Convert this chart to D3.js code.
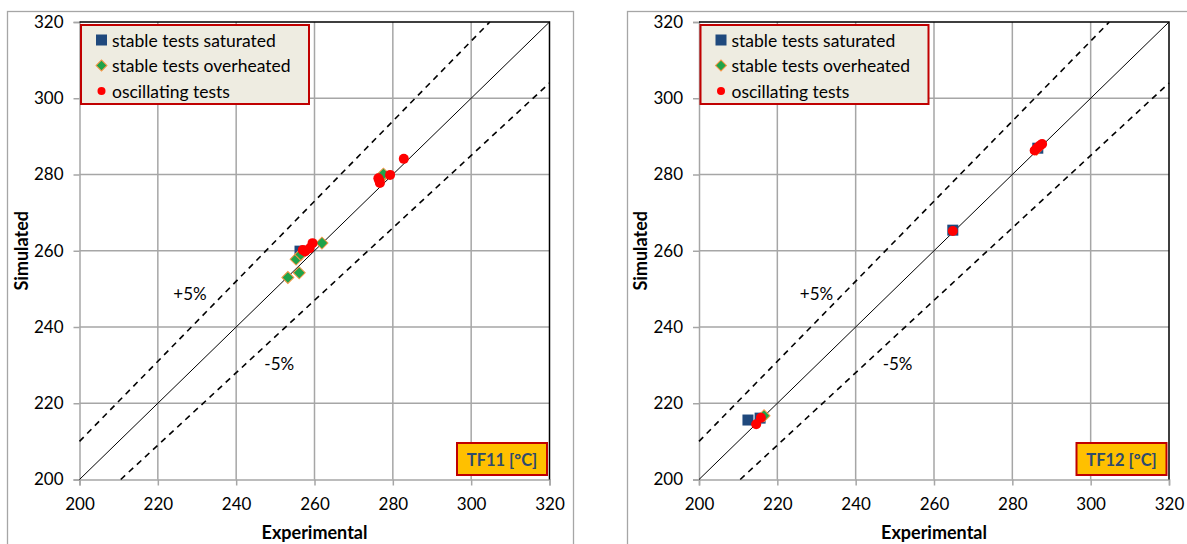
<!DOCTYPE html>
<html>
<head>
<meta charset="utf-8">
<script src="https://cdn.jsdelivr.net/npm/d3@7"></script>
<style>
  html, body { margin: 0; padding: 0; background: #fff; }
  svg { display: block; font-family: Lato, "Liberation Sans", sans-serif; }
</style>
</head>
<body>
<svg id="chart" width="1187" height="544"></svg>
<script>
// Axis ticks shared by both panels
const ticks = [200, 220, 240, 260, 280, 300, 320];

// TF11 panel: [experimental, simulated]
const tf11Saturated = [[256.3, 259.9]];
const tf11Overheated = [[253.2, 253.0], [256.1, 254.2], [255.3, 257.8], [256.5, 259.0], [261.9, 262.0], [277.0, 279.1], [277.6, 280.1]];
const tf11Oscillating = [[257.0, 260.2], [257.6, 259.8], [258.7, 260.6], [259.5, 262.0], [276.3, 279.0], [276.7, 277.8], [276.5, 278.5], [279.3, 279.9], [282.8, 284.1]];

// TF12 panel: [experimental, simulated]
const tf12Saturated = [[212.5, 215.6], [215.6, 216.1], [264.8, 265.4], [286.5, 286.9]];
const tf12Overheated = [[216.6, 216.7], [286.2, 286.6]];
const tf12Oscillating = [[215.8, 216.2], [214.6, 214.5], [264.8, 265.2], [285.7, 286.3], [286.2, 286.8], [286.6, 287.2], [287.2, 287.7], [287.6, 288.0]];

const legendLabels = ["stable tests saturated", "stable tests overheated", "oscillating tests"];
const bandLabels = ["+5%", "-5%"];
const bandFactors = [1.05, 0.95];

const panels = [
  { title: "TF11 [°C]", left: 79.5, sat: tf11Saturated, ovh: tf11Overheated, osc: tf11Oscillating,
    frame: [7, 11, 566, 560], bandPos: [[228.2, 248.7], [251.0, 230.3]] },
  { title: "TF12 [°C]", left: 699, sat: tf12Saturated, ovh: tf12Overheated, osc: tf12Oscillating,
    frame: [627, 11, 566, 560], bandPos: [[230.0, 248.7], [250.7, 230.3]] }
];

const colors = { sat: "#1F497D", ovh: "#1EA34A", ovhStroke: "#F79646", osc: "#FF0000",
  grid: "#A6A6A6", legendFill: "#EEECE1", legendStroke: "#C00000", tag: "#FFC000", tagText: "#2E4A6E" };

const svg = d3.select("#chart");
const plotW = 470, plotTop = 22, plotBottom = 479.5;

panels.forEach(p => {
  const g = svg.append("g");

  // chart frame
  g.append("rect").attr("x", p.frame[0] + 0.5).attr("y", p.frame[1] + 0.5)
    .attr("width", p.frame[2]).attr("height", p.frame[3])
    .attr("fill", "#fff").attr("stroke", "#A6A6A6").attr("stroke-width", 1.3);

  const x = d3.scaleLinear().domain([200, 320]).range([p.left, p.left + plotW]);
  const y = d3.scaleLinear().domain([200, 320]).range([plotBottom, plotTop]);

  // gridlines
  g.append("g").selectAll("line.v").data(ticks.slice(1, -1)).join("line")
    .attr("x1", d => x(d)).attr("x2", d => x(d)).attr("y1", plotTop).attr("y2", plotBottom)
    .attr("stroke", colors.grid).attr("stroke-width", 1.5);
  g.append("g").selectAll("line.h").data(ticks.slice(1, -1)).join("line")
    .attr("y1", d => y(d)).attr("y2", d => y(d)).attr("x1", p.left).attr("x2", p.left + plotW)
    .attr("stroke", colors.grid).attr("stroke-width", 1.5);

  // axes
  const xAxis = g.append("g").attr("transform", `translate(0,${plotBottom})`)
    .call(d3.axisBottom(x).tickValues(ticks).tickSize(6).tickPadding(12).tickFormat(d3.format("d")));
  const yAxis = g.append("g").attr("transform", `translate(${p.left},0)`)
    .call(d3.axisLeft(y).tickValues(ticks).tickSize(6).tickPadding(10).tickFormat(d3.format("d")));
  [xAxis, yAxis].forEach(a => {
    a.select(".domain").attr("stroke", colors.grid).attr("stroke-width", 1.5);
    a.selectAll(".tick line").attr("stroke", colors.grid).attr("stroke-width", 1.5);
    a.selectAll(".tick text").attr("fill", "#000").style("font-size", "17px")
      .style("font-family", "Lato, 'Liberation Sans', sans-serif");
  });

  // top/right border
  g.append("path")
    .attr("d", `M${p.left},${plotTop}H${p.left + plotW}V${plotBottom}`)
    .attr("fill", "none").attr("stroke", "#000").attr("stroke-width", 1.5);

  // 1:1 line and ±5% bands
  const lineGen = d3.line().x(d => x(d[0])).y(d => y(d[1]));
  g.append("path").datum([[200, 200], [320, 320]]).attr("d", lineGen)
    .attr("stroke", "#000").attr("stroke-width", 1).attr("fill", "none");
  bandFactors.forEach(f => {
    const x0 = Math.max(200, 200 / f), x1 = Math.min(320, 320 / f);
    g.append("path").datum([[x0, x0 * f], [x1, x1 * f]]).attr("d", lineGen)
      .attr("stroke", "#000").attr("stroke-width", 1.6).attr("stroke-dasharray", "6,5").attr("fill", "none");
  });
  bandLabels.forEach((t, i) => {
    g.append("text").attr("x", x(p.bandPos[i][0])).attr("y", y(p.bandPos[i][1]))
      .attr("text-anchor", "middle").attr("dominant-baseline", "central")
      .style("font-size", "17px").text(t);
  });

  // markers
  g.append("g").selectAll("rect").data(p.sat).join("rect")
    .attr("x", d => x(d[0]) - 5.5).attr("y", d => y(d[1]) - 5.5)
    .attr("width", 11).attr("height", 11).attr("fill", colors.sat);
  g.append("g").selectAll("path").data(p.ovh).join("path")
    .attr("d", d3.symbol(d3.symbolSquare, 72))
    .attr("transform", d => `translate(${x(d[0])},${y(d[1])}) rotate(45)`)
    .attr("fill", colors.ovh).attr("stroke", colors.ovhStroke).attr("stroke-width", 1);
  g.append("g").selectAll("circle").data(p.osc).join("circle")
    .attr("cx", d => x(d[0])).attr("cy", d => y(d[1])).attr("r", 5).attr("fill", colors.osc);

  // legend
  const lg = g.append("g").attr("transform", `translate(${p.left + 1.5},25)`);
  lg.append("rect").attr("width", 228).attr("height", 79)
    .attr("fill", colors.legendFill).attr("stroke", colors.legendStroke).attr("stroke-width", 2);
  legendLabels.forEach((t, i) => {
    const cy = 15 + i * 25.5;
    if (i === 0) lg.append("rect").attr("x", 15).attr("y", cy - 5.5).attr("width", 11).attr("height", 11).attr("fill", colors.sat);
    if (i === 1) lg.append("path").attr("d", d3.symbol(d3.symbolSquare, 60))
      .attr("transform", `translate(20.5,${cy}) rotate(45)`).attr("fill", colors.ovh).attr("stroke", colors.ovhStroke);
    if (i === 2) lg.append("circle").attr("cx", 20.5).attr("cy", cy).attr("r", 4).attr("fill", colors.osc);
    lg.append("text").attr("x", 31).attr("y", cy).attr("dominant-baseline", "central")
      .style("font-size", "17.5px").text(t);
  });

  // panel tag
  const tg = g.append("g").attr("transform", `translate(${p.left + plotW - 92.5},443)`);
  tg.append("rect").attr("width", 90).attr("height", 32)
    .attr("fill", colors.tag).attr("stroke", colors.legendStroke).attr("stroke-width", 2);
  tg.append("text").attr("x", 45).attr("y", 16.5).attr("text-anchor", "middle").attr("dominant-baseline", "central")
    .style("font-size", "16.5px").style("font-weight", "bold").attr("fill", colors.tagText).text(p.title);

  // axis titles
  g.append("text").attr("x", p.left + plotW / 2).attr("y", 532).attr("text-anchor", "middle")
    .attr("dominant-baseline", "central").style("font-size", "18px").style("font-weight", "bold").text("Experimental");
  g.append("text").attr("transform", `translate(${p.left - 59},${(plotTop + plotBottom) / 2}) rotate(-90)`)
    .attr("text-anchor", "middle").attr("dominant-baseline", "central")
    .style("font-size", "18px").style("font-weight", "bold").text("Simulated");
});
</script>
</body>
</html>
